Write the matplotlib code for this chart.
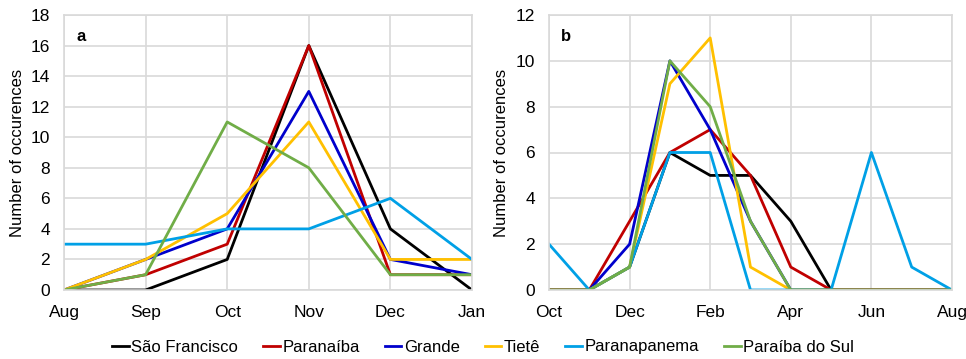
import matplotlib
matplotlib.use('Agg')
import matplotlib.pyplot as plt

plt.rcParams['font.family'] = ['Liberation Sans', 'DejaVu Sans']

series_names = ['São Francisco', 'Paranaíba', 'Grande', 'Tietê', 'Paranapanema', 'Paraíba do Sul']
series_colors = ['#000000', '#C00000', '#0000CC', '#FFC000', '#00A0E6', '#70AD47']

# panel a: Aug -> Jan
months_a = ['Aug', 'Sep', 'Oct', 'Nov', 'Dec', 'Jan']
sao_francisco_a = [0, 0, 2, 16, 4, 0]
paranaiba_a = [0, 1, 3, 16, 1, 1]
grande_a = [0, 2, 4, 13, 2, 1]
tiete_a = [0, 2, 5, 11, 2, 2]
paranapanema_a = [3, 3, 4, 4, 6, 2]
paraiba_sul_a = [0, 1, 11, 8, 1, 1]

# panel b: Oct -> Aug (monthly, labelled every other month)
months_b = ['Oct', 'Nov', 'Dec', 'Jan', 'Feb', 'Mar', 'Apr', 'May', 'Jun', 'Jul', 'Aug']
sao_francisco_b = [0, 0, 1, 6, 5, 5, 3, 0, 0, 0, 0]
paranaiba_b = [0, 0, 3, 6, 7, 5, 1, 0, 0, 0, 0]
grande_b = [0, 0, 2, 10, 7, 3, 0, 0, 0, 0, 0]
tiete_b = [0, 0, 1, 9, 11, 1, 0, 0, 0, 0, 0]
paranapanema_b = [2, 0, 1, 6, 6, 0, 0, 0, 6, 1, 0]
paraiba_sul_b = [0, 0, 1, 10, 8, 3, 0, 0, 0, 0, 0]

data_a = [sao_francisco_a, paranaiba_a, grande_a, tiete_a, paranapanema_a, paraiba_sul_a]
data_b = [sao_francisco_b, paranaiba_b, grande_b, tiete_b, paranapanema_b, paraiba_sul_b]

fig = plt.figure(figsize=(9.66, 3.59), dpi=100)
ax_a = fig.add_axes([64 / 966, 69 / 359, 408 / 966, 275 / 359])
ax_b = fig.add_axes([549 / 966, 69 / 359, 403 / 966, 275 / 359])

grid_col = '#D9D9D9'


def style(ax, ymax, ystep, label, ylab_x):
    ax.set_ylim(0, ymax)
    ax.set_yticks(range(0, ymax + 1, ystep))
    ax.grid(True, color=grid_col, linewidth=1.2)
    ax.set_axisbelow(True)
    for s in ax.spines.values():
        s.set_color(grid_col)
        s.set_linewidth(1.2)
    ax.tick_params(length=0, labelsize=12.5)
    ax.tick_params(axis='x', pad=11)
    ax.tick_params(axis='y', pad=10)
    ax.set_ylabel('Number of occurences', fontsize=12)
    ax.yaxis.set_label_coords(ylab_x, 0.5)
    ax.text(0.03, 0.95, label, transform=ax.transAxes, fontsize=12,
            fontweight='bold', va='top', ha='left')


xa = list(range(len(months_a)))
for vals, name, col in zip(data_a, series_names, series_colors):
    ax_a.plot(xa, vals, color=col, linewidth=2, label=name)
ax_a.set_xlim(0, len(months_a) - 1)
ax_a.set_xticks(xa)
ax_a.set_xticklabels(months_a)
style(ax_a, 18, 2, 'a', -39 / 408)

xb = list(range(len(months_b)))
for vals, name, col in zip(data_b, series_names, series_colors):
    ax_b.plot(xb, vals, color=col, linewidth=2, label=name)
ax_b.set_xlim(0, len(months_b) - 1)
ax_b.set_xticks(xb[::2])
ax_b.set_xticklabels(months_b[::2])
style(ax_b, 12, 2, 'b', -40 / 403)

handles, labels = ax_a.get_legend_handles_labels()
fig.legend(handles, labels, loc='center', bbox_to_anchor=(0.5, 12 / 359), ncol=6,
           frameon=False, fontsize=12, handlelength=1.0, handletextpad=0.15,
           columnspacing=1.5)

fig.savefig('out.png', dpi=100)
